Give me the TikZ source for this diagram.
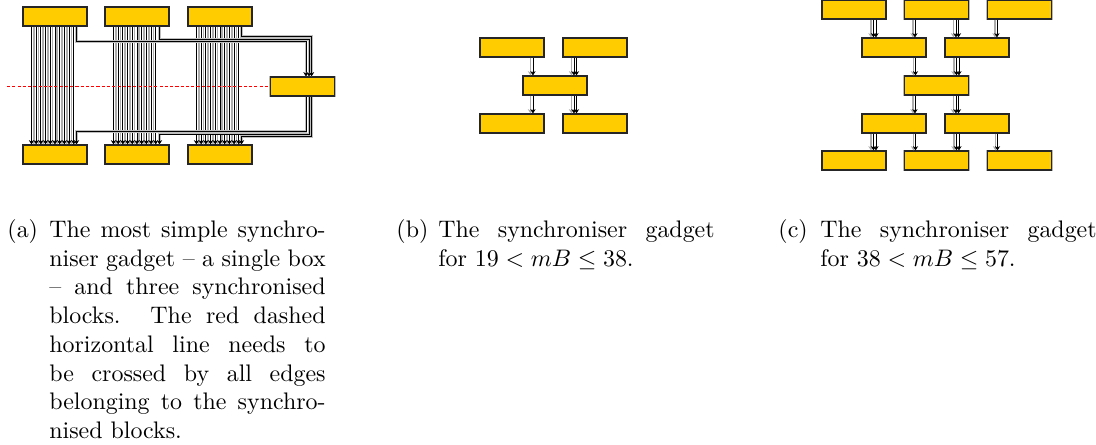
\documentclass[tikz,border=0pt]{standalone}
\usetikzlibrary{arrows.meta,calc}
\definecolor{gold}{HTML}{FFCC00}
\tikzset{
 gbox/.style={draw=black!85, line width=0.45pt, fill=gold,
   preaction={draw=gray!55, line width=1.1pt},
   minimum width=26.75pt, minimum height=7.94pt, inner sep=0pt},
 eb/.style={black, line width=0.35pt, -{Stealth[length=1.8pt,width=2.2pt]}},
 eg/.style={gray!65, line width=0.7pt, -{Stealth[length=1.8pt,width=2.2pt]}},
 conn/.style={black, line width=0.4pt, preaction={draw=gray!50, line width=1pt}},
 captxt/.style={anchor=base west, inner sep=0pt, font=\fontsize{10}{12}\selectfont}
}
\newcommand\gedge[4]{%
  \coordinate (gp) at ($(#2.south west)+(#4,0)$);
  \draw[#1] (gp) -- (gp |- #3.north);}
\newcommand\capbody[2]{\parbox[t]{133pt}{\hangindent=17.5pt\hangafter=1\noindent\makebox[17.5pt][l]{#1}#2}}
\begin{document}
\begin{tikzpicture}[x=0.418pt,y=-0.418pt]
\useasboundingbox (0,0) rectangle (1096,445);

% ---------- (a) ----------
\node[gbox] (t1) at (55,16.5) {};
\node[gbox] (t2) at (137,16.5) {};
\node[gbox] (t3) at (220,16.5) {};
\node[gbox] (b1) at (55,154.5) {};
\node[gbox] (b2) at (137,154.5) {};
\node[gbox] (b3) at (220,154.5) {};
\node[gbox] (s) at (302.5,86.5) {};

\foreach \k in {1,2,3}{
  \foreach \i in {1,3,...,17}{\gedge{eg}{t\k}{b\k}{9+2.35*\i}}
  \foreach \i in {0,2,...,18}{\gedge{eb}{t\k}{b\k}{9+2.35*\i}}
}
% edges to and from the synchroniser box
\draw[conn,-{Stealth[length=1.8pt,width=2.2pt]}] ($(t1.south west)+(54,0)$) -- ++(0,15) -| ($(s.north)+(3.5,0)$);
\draw[conn,-{Stealth[length=1.8pt,width=2.2pt]}] ($(t2.south west)+(55,0)$) -- ++(0,13) -| ($(s.north)+(6.5,0)$);
\draw[conn,-{Stealth[length=1.8pt,width=2.2pt]}] ($(t3.south west)+(54,0)$) -- ++(0,10) -| ($(s.north)+(9,0)$);
\draw[conn,-{Stealth[length=1.8pt,width=2.2pt]}] ($(s.south)+(3.5,0)$) -- ++(0,35) -| ($(b1.north west)+(54,0)$);
\draw[conn,-{Stealth[length=1.8pt,width=2.2pt]}] ($(s.south)+(6.5,0)$) -- ++(0,37.5) -| ($(b2.north west)+(55,0)$);
\draw[conn,-{Stealth[length=1.8pt,width=2.2pt]}] ($(s.south)+(9,0)$) -- ++(0,40) -| ($(b3.north west)+(54,0)$);
% red dashed line
\coordinate (rl) at (7,86.5);
\draw[red, line width=0.4pt, dash pattern=on 1.3pt off 0.9pt] (rl) -- (s.west);

% ---------- (b) ----------
\node[gbox] (bt1) at (512,47.5) {};
\node[gbox] (bt2) at (595,47.5) {};
\node[gbox] (bm) at (555,85.5) {};
\node[gbox] (bb1) at (512,123.5) {};
\node[gbox] (bb2) at (595,123.5) {};
\gedge{eg}{bt1}{bm}{51}\gedge{eb}{bt1}{bm}{53.5}
\gedge{eg}{bt2}{bm}{9}\gedge{eb}{bt2}{bm}{11.5}\gedge{eb}{bt2}{bm}{14}
\gedge{eg}{bm}{bb1}{8}\gedge{eb}{bm}{bb1}{10.5}
\gedge{eg}{bm}{bb2}{49}\gedge{eb}{bm}{bb2}{51.5}\gedge{eb}{bm}{bb2}{54}

% ---------- (c) ----------
\node[gbox] (r1a) at (854,9.5) {};
\node[gbox] (r1b) at (936.5,9.5) {};
\node[gbox] (r1c) at (1019.5,9.5) {};
\node[gbox] (r2a) at (894,47.5) {};
\node[gbox] (r2b) at (977,47.5) {};
\node[gbox] (r3) at (936.5,85.5) {};
\node[gbox] (r4a) at (894,123.5) {};
\node[gbox] (r4b) at (977,123.5) {};
\node[gbox] (r5a) at (854,160.5) {};
\node[gbox] (r5b) at (936.5,160.5) {};
\node[gbox] (r5c) at (1019.5,160.5) {};
% row 1 -> row 2
\gedge{eg}{r1a}{r2a}{49.5}\gedge{eb}{r1a}{r2a}{52}\gedge{eb}{r1a}{r2a}{54.5}
\gedge{eg}{r1b}{r2a}{9}\gedge{eb}{r1b}{r2a}{11}
\gedge{eg}{r1b}{r2b}{49.5}\gedge{eb}{r1b}{r2b}{52}\gedge{eb}{r1b}{r2b}{54.5}
\gedge{eg}{r1c}{r2b}{8}\gedge{eb}{r1c}{r2b}{10}
% row 2 -> row 3
\gedge{eg}{r2a}{r3}{52}\gedge{eb}{r2a}{r3}{54}
\gedge{eg}{r2b}{r3}{9.5}\gedge{eb}{r2b}{r3}{12}\gedge{eb}{r2b}{r3}{14.5}
% row 3 -> row 4
\gedge{eg}{r3}{r4a}{9}\gedge{eb}{r3}{r4a}{11}
\gedge{eg}{r3}{r4b}{49.5}\gedge{eb}{r3}{r4b}{52}\gedge{eb}{r3}{r4b}{54.5}
% row 4 -> row 5
\gedge{eg}{r4a}{r5a}{9.5}\gedge{eb}{r4a}{r5a}{12}\gedge{eb}{r4a}{r5a}{14.5}
\gedge{eg}{r4a}{r5b}{52}\gedge{eb}{r4a}{r5b}{54}
\gedge{eg}{r4b}{r5b}{9.5}\gedge{eb}{r4b}{r5b}{12}\gedge{eb}{r4b}{r5b}{14.5}
\gedge{eg}{r4b}{r5c}{51}\gedge{eb}{r4b}{r5c}{53}

% ---------- captions ----------
\node[captxt] (ca) at (7,237.5) {\capbody{(a)}{The most simple synchro-\linebreak niser gadget -- a single box\linebreak -- and three synchronised\linebreak blocks.  The red dashed\linebreak horizontal line needs to\linebreak be crossed by all edges\linebreak belonging to the synchro-\linebreak nised blocks.}};
\node[captxt] (cb) at (396,237.5) {\capbody{(b)}{The synchroniser gadget\linebreak for $19 < mB \leq 38$.}};
\node[captxt] (cc) at (778,237.5) {\capbody{(c)}{The synchroniser gadget\linebreak for $38 < mB \leq 57$.}};
\end{tikzpicture}
\end{document}
